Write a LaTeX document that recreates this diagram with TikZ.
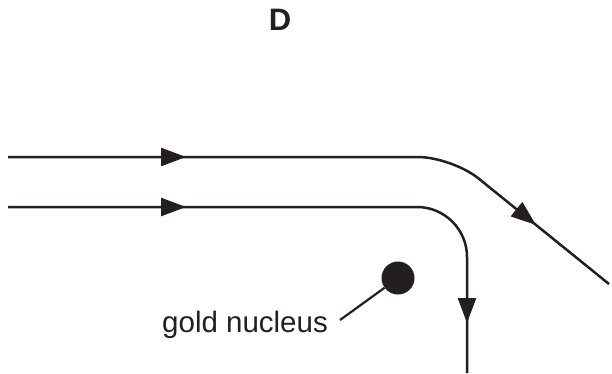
\documentclass[tikz,border=0pt]{standalone}
\usepackage{fontspec}
\setmainfont{Liberation Sans}
\usetikzlibrary{arrows.meta,decorations.markings}
\definecolor{ink}{HTML}{231F20}
\tikzset{
  trackline/.style={draw=ink, line width=2.5pt, rounded corners=#1},
  midtip/.style={postaction={decorate,decoration={markings,
     mark=at position #1 with {\arrow{Triangle[length=25pt,width=18pt]}}}}},
  label/.style={inner sep=0pt, text=ink, font=\fontsize{29.5}{34}\selectfont},
}
\begin{document}
\begin{tikzpicture}[x=1pt,y=-1pt]
\useasboundingbox (0,0) rectangle (612,373);
% title
\node[label, font=\fontsize{31}{34}\selectfont\bfseries, anchor=base] (title) at (280,30) {D};
% upper path
\coordinate (a1) at (8,157);
\coordinate (a2) at (452,157);
\coordinate (a3) at (609,284);
\draw[trackline=34pt, midtip=178pt, midtip=-94pt] (a1) -- (a2) -- (a3);
% lower path
\coordinate (b1) at (8,207);
\coordinate (b2) at (467,207);
\coordinate (b3) at (467,373);
\draw[trackline=50pt, midtip=178pt, midtip=-50pt] (b1) -- (b2) -- (b3);
% nucleus
\node[circle, fill=ink, minimum size=33pt, inner sep=0pt] (nuc) at (398,278) {};
\node[label, anchor=base west] (gn) at (162,332) {gold nucleus};
\coordinate (p) at (340,320);
\draw[draw=ink, line width=2.2pt] (p) -- (nuc);
\end{tikzpicture}
\end{document}
